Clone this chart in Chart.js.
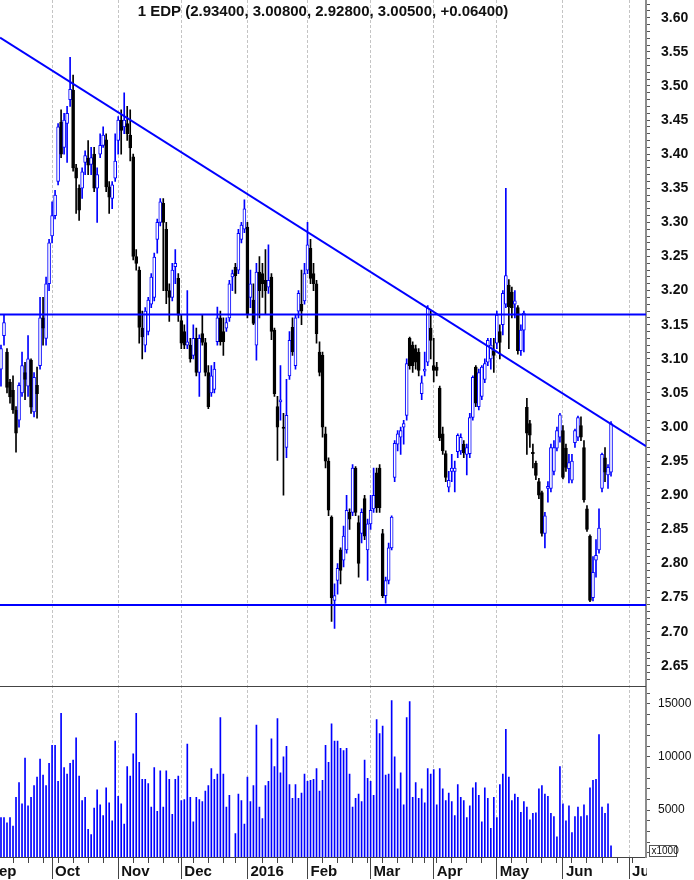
<!DOCTYPE html>
<html>
<head>
<meta charset="utf-8">
<title>EDP</title>
<script src="https://cdn.jsdelivr.net/npm/chart.js@4.4.1/dist/chart.umd.min.js"></script>
<style>
  html, body { margin: 0; padding: 0; background: #fff; }
</style>
</head>
<body>
<canvas id="chart" width="694" height="880"></canvas>
<script>
// EDP daily candles Sep 2015 - Jun 2016, trend lines and volume pane

const TITLE = '1 EDP (2.93400, 3.00800, 2.92800, 3.00500, +0.06400)';

// one entry per trading day, index 0 = 8 Sep 2015
const opens = [
  3.085, 3.134, 3.11, 3.066, 3.054, 3.025, 3.01, 3.05, 3.08, 3.06,
  3.098, 3.022, 3.061, 3.09, 3.16, 3.13, 3.21, 3.28, 3.31, 3.36,
  3.447, 3.41, 3.445, 3.48, 3.494, 3.38, 3.35, 3.35, 3.388, 3.394,
  3.385, 3.40, 3.35, 3.40, 3.413, 3.421, 3.352, 3.335, 3.365, 3.42,
  3.45, 3.44, 3.445, 3.428, 3.396, 3.25, 3.23, 3.145, 3.12, 3.14,
  3.18, 3.19, 3.275, 3.30, 3.328, 3.29, 3.20, 3.19, 3.235, 3.218,
  3.156, 3.14, 3.12, 3.12, 3.105, 3.13, 3.08, 3.137, 3.124, 3.08,
  3.05, 3.055, 3.125, 3.16, 3.14, 3.145, 3.16, 3.22, 3.234, 3.23,
  3.275, 3.29, 3.293, 3.19, 3.186, 3.12, 3.227, 3.225, 3.215, 3.205,
  3.22, 3.142, 3.03, 3.037, 3.00, 2.97, 3.075, 3.146, 3.09, 3.17,
  3.18, 3.185, 3.23, 3.262, 3.225, 3.21, 3.11, 3.105, 2.99, 2.95,
  2.868, 2.746, 2.775, 2.82, 2.805, 2.82, 2.875, 2.875, 2.94, 2.86,
  2.844, 2.895, 2.82, 2.858, 2.88, 2.933, 2.94, 2.844, 2.753, 2.775,
  2.823, 2.926, 2.975, 2.985, 3.00, 3.017, 3.13, 3.12, 3.115, 3.11,
  3.049, 3.082, 3.095, 3.145, 3.09, 3.088, 3.057, 2.99, 2.961, 2.912,
  2.935, 2.935, 2.964, 2.965, 2.975, 2.96, 2.961, 3.014, 3.088, 3.03,
  3.045, 3.07, 3.095, 3.10, 3.112, 3.123, 3.14, 3.15, 3.18, 3.208,
  3.198, 3.18, 3.175, 3.112, 3.142, 3.029, 3.005, 2.963, 2.947, 2.92,
  2.904, 2.844, 2.91, 2.91, 2.935, 2.969, 2.985, 2.995, 2.969, 2.939,
  2.922, 2.977, 2.985, 3.002, 2.97, 2.88, 2.84, 2.75, 2.805, 2.82,
  2.91, 2.955, 2.93, 2.934
];
const highs = [
  3.12, 3.164, 3.115, 3.07, 3.075, 3.03, 3.065, 3.11, 3.095, 3.134,
  3.10, 3.08, 3.088, 3.19, 3.19, 3.22, 3.275, 3.33, 3.347, 3.445,
  3.465, 3.46, 3.47, 3.542, 3.516, 3.385, 3.355, 3.38, 3.405, 3.42,
  3.41, 3.41, 3.38, 3.43, 3.44, 3.43, 3.36, 3.36, 3.43, 3.455,
  3.465, 3.49, 3.47, 3.465, 3.40, 3.26, 3.235, 3.17, 3.175, 3.19,
  3.225, 3.255, 3.305, 3.335, 3.335, 3.30, 3.21, 3.24, 3.26, 3.225,
  3.165, 3.15, 3.20, 3.13, 3.15, 3.145, 3.135, 3.164, 3.13, 3.09,
  3.09, 3.095, 3.176, 3.17, 3.16, 3.16, 3.215, 3.23, 3.24, 3.29,
  3.30, 3.333, 3.30, 3.23, 3.21, 3.24, 3.25, 3.24, 3.26, 3.267,
  3.225, 3.145, 3.045, 3.09, 3.02, 3.07, 3.14, 3.16, 3.165, 3.20,
  3.23, 3.24, 3.30, 3.275, 3.24, 3.215, 3.125, 3.11, 3.00, 2.955,
  2.87, 2.77, 2.80, 2.823, 2.855, 2.90, 2.88, 2.945, 2.942, 2.87,
  2.88, 2.90, 2.865, 2.90, 2.94, 2.94, 2.945, 2.85, 2.78, 2.83,
  2.87, 2.98, 2.995, 3.00, 3.01, 3.10, 3.132, 3.125, 3.12, 3.115,
  3.075, 3.11, 3.178, 3.17, 3.13, 3.095, 3.06, 3.00, 2.965, 2.935,
  2.96, 2.95, 2.99, 2.99, 2.98, 2.975, 3.02, 3.075, 3.09, 3.085,
  3.09, 3.10, 3.13, 3.13, 3.13, 3.17, 3.15, 3.20, 3.35, 3.216,
  3.205, 3.20, 3.178, 3.15, 3.17, 3.042, 3.01, 2.975, 2.95, 2.925,
  2.906, 2.875, 2.92, 2.975, 2.98, 3.00, 3.02, 3.002, 2.975, 2.96,
  2.96, 2.997, 3.016, 3.015, 2.98, 2.885, 2.842, 2.81, 2.835, 2.88,
  2.962, 2.97, 2.945, 3.008
];
const lows = [
  3.06, 3.12, 3.05, 3.035, 3.02, 2.963, 3.00, 3.045, 3.04, 3.045,
  3.02, 3.015, 3.013, 3.085, 3.12, 3.12, 3.20, 3.27, 3.305, 3.355,
  3.395, 3.40, 3.388, 3.47, 3.375, 3.313, 3.303, 3.335, 3.37, 3.37,
  3.37, 3.345, 3.30, 3.395, 3.41, 3.345, 3.313, 3.32, 3.36, 3.40,
  3.40, 3.43, 3.42, 3.39, 3.245, 3.23, 3.123, 3.10, 3.11, 3.135,
  3.175, 3.185, 3.255, 3.295, 3.20, 3.181, 3.155, 3.185, 3.21, 3.155,
  3.115, 3.115, 3.115, 3.095, 3.10, 3.075, 3.045, 3.12, 3.075, 3.027,
  3.045, 3.05, 3.12, 3.12, 3.105, 3.14, 3.155, 3.20, 3.196, 3.225,
  3.27, 3.285, 3.16, 3.175, 3.15, 3.098, 3.16, 3.19, 3.165, 3.196,
  3.128, 3.045, 2.951, 3.01, 2.90, 2.955, 3.07, 3.105, 3.085, 3.16,
  3.15, 3.18, 3.225, 3.21, 3.20, 3.123, 3.075, 2.985, 2.94, 2.87,
  2.715, 2.705, 2.755, 2.77, 2.795, 2.815, 2.85, 2.87, 2.87, 2.78,
  2.83, 2.835, 2.775, 2.85, 2.875, 2.875, 2.875, 2.75, 2.742, 2.77,
  2.82, 2.92, 2.965, 2.96, 2.975, 3.01, 3.085, 3.08, 3.085, 3.075,
  3.04, 3.075, 3.09, 3.10, 3.066, 3.075, 2.98, 2.96, 2.92, 2.905,
  2.92, 2.905, 2.955, 2.96, 2.955, 2.93, 2.955, 3.01, 3.03, 3.025,
  3.04, 3.065, 3.09, 3.085, 3.08, 3.115, 3.10, 3.135, 3.175, 3.115,
  3.16, 3.16, 3.107, 3.105, 3.11, 2.96, 2.97, 2.94, 2.923, 2.895,
  2.84, 2.823, 2.89, 2.905, 2.93, 2.965, 2.978, 2.924, 2.935, 2.918,
  2.918, 2.97, 2.98, 2.98, 2.89, 2.847, 2.744, 2.745, 2.78, 2.815,
  2.905, 2.92, 2.91, 2.928
];
const closes = [
  3.115, 3.153, 3.058, 3.044, 3.025, 2.991, 3.061, 3.09, 3.07, 3.10,
  3.029, 3.073, 3.049, 3.16, 3.145, 3.21, 3.27, 3.31, 3.34, 3.44,
  3.40, 3.45, 3.46, 3.495, 3.38, 3.365, 3.318, 3.374, 3.398, 3.384,
  3.395, 3.35, 3.37, 3.413, 3.428, 3.352, 3.337, 3.355, 3.39, 3.45,
  3.435, 3.45, 3.43, 3.409, 3.25, 3.24, 3.146, 3.132, 3.17, 3.186,
  3.22, 3.249, 3.30, 3.33, 3.30, 3.20, 3.19, 3.23, 3.24, 3.164,
  3.123, 3.12, 3.125, 3.10, 3.13, 3.08, 3.13, 3.124, 3.08, 3.03,
  3.075, 3.085, 3.16, 3.125, 3.125, 3.153, 3.21, 3.225, 3.222, 3.284,
  3.296, 3.32, 3.165, 3.21, 3.152, 3.227, 3.20, 3.21, 3.20, 3.215,
  3.14, 3.049, 3.00, 3.04, 2.998, 3.017, 3.127, 3.11, 3.16, 3.196,
  3.17, 3.225, 3.267, 3.218, 3.21, 3.137, 3.08, 3.00, 2.95, 2.878,
  2.75, 2.753, 2.793, 2.79, 2.84, 2.878, 2.865, 2.94, 2.875, 2.80,
  2.875, 2.84, 2.858, 2.878, 2.90, 2.882, 2.882, 2.753, 2.775, 2.823,
  2.868, 2.976, 2.99, 2.995, 3.005, 3.093, 3.09, 3.09, 3.095, 3.083,
  3.065, 3.085, 3.174, 3.127, 3.083, 3.083, 2.984, 2.965, 2.926, 2.922,
  2.94, 2.94, 2.988, 2.985, 2.962, 2.97, 3.014, 3.073, 3.035, 3.08,
  3.088, 3.093, 3.127, 3.12, 3.105, 3.164, 3.124, 3.196, 3.222, 3.176,
  3.175, 3.185, 3.112, 3.142, 3.167, 2.991, 2.988, 2.961, 2.929, 2.90,
  2.844, 2.87, 2.913, 2.97, 2.97, 2.995, 3.018, 2.926, 2.941, 2.948,
  2.95, 2.995, 3.014, 2.985, 2.893, 2.85, 2.746, 2.787, 2.812, 2.852,
  2.96, 2.934, 2.941, 3.005
];
// shares traded, in thousands
const volumes = [
  4300, 4300, 3800, 4300, 3500,
  6200, 7600, 5600, 9900, 5400, 6200, 7300, 8100, 9800, 8300, 7300, 9400, 11100, 11100, 7700, 14100,
  9000, 8400, 9400, 9700, 11800, 8200, 5900, 6200, 3200, 2700, 5200, 6900, 5500, 4500, 7100, 5700, 4000, 11500, 6300, 5600,
  3700, 9100, 8200, 10300, 14100, 9500, 7900, 7900, 7500, 5300, 9000, 4900, 8700, 5300, 8700, 7900, 4600, 7900, 8200, 5900,
  6000, 11200, 6200, 3900, 6200, 6000, 5800, 6800, 7300, 8900, 7900, 8400, 13700, 8400, 5300, 6400, 400, 2800, 6500, 5900,
  3700, 8100, 5800, 7300, 13000, 5300, 4200, 7300, 7700, 11700, 9100, 13600, 8500, 10000, 11000, 7400, 6100, 7400, 6100, 6600,
  8400, 7700, 7800, 7900, 8900, 6800, 7800, 11100, 9500, 13100, 11500, 11500, 10800, 10600, 10800, 8400, 5300, 6100, 6500, 5800,
  9700, 8000, 7700, 6400, 13500, 12200, 12900, 8300, 8400, 15300, 10000, 7000, 8500, 5500, 13700, 15200, 6200, 7600, 6100, 7000,
  5700, 8900, 8400, 8800, 5500, 8900, 7000, 5900, 6600, 5800, 4500, 7400, 6200, 5900, 4300, 5400, 7100, 7600, 6400, 3900,
  7100, 6100, 3300, 6200, 4300, 7400, 8400, 12600, 8100, 5900, 6500, 6200, 4800, 5800, 5300, 4100, 4700, 4750, 7000, 7300,
  6500, 6300, 4700, 4400, 2500, 9100, 5600, 4000, 5400, 2900, 4400, 5300, 4400, 5500, 4500, 7100, 7800, 7900, 12100, 5300,
  4700, 5600, 1650
];

// axis marks (trading-day index of first day of month / each Monday)
const monthTicks = [-5, 17, 39, 60, 82, 102, 123, 144, 165, 187, 209];
const monthLabels = ['Sep', 'Oct', 'Nov', 'Dec', '2016', 'Feb', 'Mar', 'Apr', 'May', 'Jun', 'Jul'];
const weekTicks = [4, 9, 14, 19, 24, 29, 34, 39, 44, 49, 54, 59, 64, 69, 74, 78, 82, 87, 92, 97, 102,
  107, 112, 117, 122, 127, 132, 137, 141, 145, 150, 155, 160, 165, 170, 175, 180, 185, 190, 195,
  200, 205, 210];
const priceLabels = [2.65, 2.70, 2.75, 2.80, 2.85, 2.90, 2.95, 3.00, 3.05, 3.10,
  3.15, 3.20, 3.25, 3.30, 3.35, 3.40, 3.45, 3.50, 3.55, 3.60];
const volumeLabels = [5000, 10000, 15000];

// drawn lines: falling resistance (price at left / right edge) and two levels
const trendLine = [3.571, 2.972];
const levels = [3.165, 2.739];

const X_MIN = -0.33, X_MAX = 214.64;

const COLORS = {
  up: '#0000ff',
  down: '#000000',
  grid: '#c4c4c4',
  axis: '#8c8c8c',
  frame: '#444444',
  tick: '#555555',
  text: '#111111',
};
const FONT = "'Liberation Sans', Arial, sans-serif";

Chart.defaults.font.family = FONT;

const isUp = i => closes[i] >= opens[i];
const candleColor = ctx => isUp(ctx.dataIndex) ? COLORS.up : COLORS.down;

// ── Datasets ──────────────────────────────────────────────────────────

const lineStyle = {
  type: 'line', yAxisID: 'y', borderColor: COLORS.up, borderWidth: 2,
  pointRadius: 0, fill: false, order: 0,
};

const datasets = [
  { ...lineStyle, data: [{ x: X_MIN, y: trendLine[0] }, { x: X_MAX, y: trendLine[1] }] },
  ...levels.map(v => ({ ...lineStyle, data: [{ x: X_MIN, y: v }, { x: X_MAX, y: v }] })),
  {
    type: 'bar', yAxisID: 'y', order: 1, grouped: false,
    data: opens.map((o, i) => ({ x: i, y: [Math.min(o, closes[i]), Math.max(o, closes[i])] })),
    barThickness: 3, minBarLength: 1, borderWidth: 1, borderSkipped: false,
    backgroundColor: ctx => isUp(ctx.dataIndex) ? '#ffffff' : COLORS.down,
    borderColor: candleColor,
  },
  {
    type: 'bar', yAxisID: 'y', order: 2, grouped: false,
    data: highs.map((h, i) => ({ x: i, y: [lows[i], h] })),
    barThickness: 1, minBarLength: 1, borderWidth: 0,
    backgroundColor: candleColor,
  },
  {
    type: 'bar', yAxisID: 'yv', order: 3, grouped: false,
    data: volumes.map((v, i) => ({ x: i, y: v })),
    barThickness: 1, borderWidth: 0,
    backgroundColor: COLORS.up,
  },
];

// ── Overlay: title, pane separator, unit box ──────────────────────────

const overlay = {
  id: 'overlay',
  afterDraw(chart) {
    const { ctx, chartArea, scales } = chart;
    ctx.save();
    const yb = Math.round(scales.y.bottom) + 0.5;
    ctx.strokeStyle = COLORS.frame;
    ctx.lineWidth = 1;
    ctx.beginPath();
    ctx.moveTo(chartArea.left, yb);
    ctx.lineTo(chartArea.right, yb);
    ctx.stroke();

    // month label running under the price axis is cut off there
    ctx.fillStyle = '#ffffff';
    ctx.fillRect(chartArea.right + 1, chartArea.bottom + 1,
      chart.width - chartArea.right, chart.height - chartArea.bottom);

    ctx.fillStyle = COLORS.text;
    ctx.font = `bold 15px ${FONT}`;
    ctx.textAlign = 'center';
    ctx.textBaseline = 'middle';
    ctx.fillText(TITLE, (chartArea.left + chartArea.right) / 2, 12);

    ctx.font = `10px ${FONT}`;
    ctx.textAlign = 'left';
    const bx = Math.round(chartArea.right) + 3.5;
    const by = Math.round(chartArea.bottom) - 11.5;
    ctx.strokeStyle = COLORS.tick;
    ctx.strokeRect(bx, by, 27, 11);
    ctx.fillText('x1000', bx + 2, by + 6);
    ctx.restore();
  }
};

// ── Chart ─────────────────────────────────────────────────────────────

const flatPad = s => { s.paddingLeft = 0; s.paddingRight = 0; s.paddingTop = 0; s.paddingBottom = 0; };
const near = (list, v) => list.some(p => Math.abs(p - v) < 1e-6);

new Chart(document.getElementById('chart'), {
  type: 'bar',
  data: { datasets },
  options: {
    responsive: false,
    animation: false,
    events: [],
    layout: { padding: 0 },
    plugins: { legend: { display: false }, tooltip: { enabled: false } },
    scales: {
      xw: {
        type: 'linear', position: 'bottom', weight: 0,
        min: X_MIN, max: X_MAX, offset: false,
        afterBuildTicks: s => { s.ticks = weekTicks.map(v => ({ value: v })); },
        afterFit: s => { s.height = 0; flatPad(s); },
        grid: { offset: false, drawOnChartArea: false, tickLength: 6, tickColor: COLORS.frame },
        border: { display: false },
        ticks: { display: false, autoSkip: false },
      },
      x: {
        type: 'linear', position: 'bottom', weight: 1,
        min: X_MIN, max: X_MAX, offset: false,
        afterBuildTicks: s => { s.ticks = monthTicks.map(v => ({ value: v })); },
        afterFit: s => { s.height = 23; flatPad(s); },
        grid: { offset: false, color: COLORS.grid, lineWidth: 1, tickLength: 22, tickColor: COLORS.frame },
        border: { color: COLORS.frame, width: 1, dash: [3, 2] },
        ticks: {
          autoSkip: false, maxRotation: 0, minRotation: 0, align: 'start',
          labelOffset: 3, padding: -16, color: COLORS.text,
          font: { size: 15, weight: 'bold' },
          callback: (v, i) => monthLabels[i],
        },
      },
      y: {
        type: 'linear', position: 'right', stack: 'panes', stackWeight: 4,
        min: 2.621, max: 3.626,
        afterBuildTicks: s => {
          const t = [];
          for (let c = 263; c <= 362; c++) t.push({ value: c / 100 });
          s.ticks = t;
        },
        afterFit: s => { s.width = 48; flatPad(s); },
        grid: { drawOnChartArea: false, tickLength: 4, tickColor: COLORS.tick },
        border: { color: COLORS.axis, width: 2 },
        ticks: {
          autoSkip: false, padding: 11, color: COLORS.text,
          font: { size: 14, weight: 'bold' },
          callback: v => near(priceLabels, v) ? v.toFixed(2) : '',
        },
      },
      yv: {
        type: 'linear', position: 'right', stack: 'panes', stackWeight: 1,
        min: 600, max: 16700,
        afterBuildTicks: s => {
          const t = [];
          for (let v = 1000; v <= 16000; v += 1000) t.push({ value: v });
          s.ticks = t;
        },
        afterFit: s => { s.width = 48; flatPad(s); },
        grid: { drawOnChartArea: false, tickLength: 4, tickColor: COLORS.tick },
        border: { color: COLORS.axis, width: 2 },
        ticks: {
          autoSkip: false, padding: 8, color: COLORS.text,
          font: { size: 12 },
          callback: v => near(volumeLabels, v) ? String(v) : '',
        },
      },
    },
  },
  plugins: [overlay],
});
</script>
</body>
</html>
